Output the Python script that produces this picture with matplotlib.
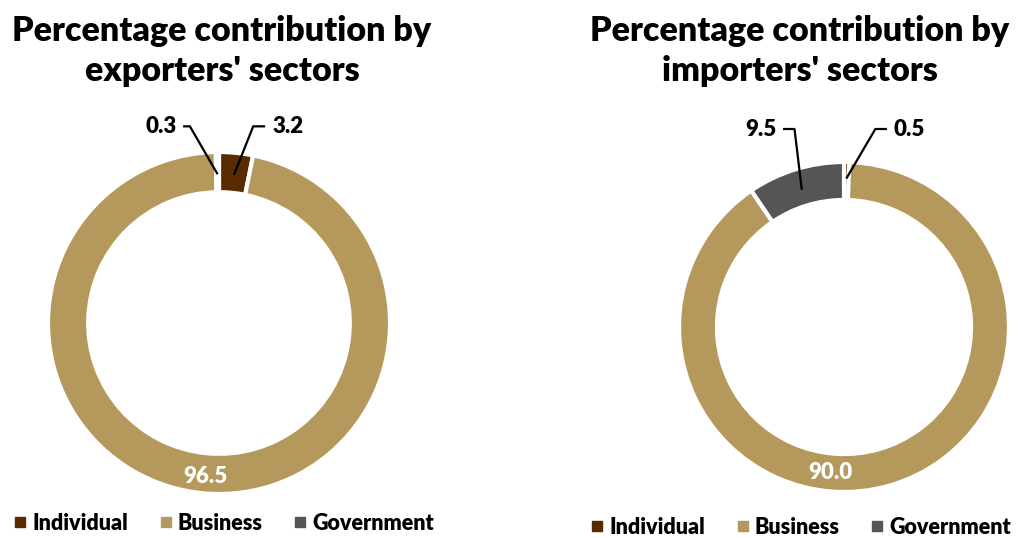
import numpy as np
import matplotlib
matplotlib.use("Agg")
import matplotlib.pyplot as plt
from matplotlib.lines import Line2D

plt.rcParams['font.family'] = ['Lato', 'DejaVu Sans']
plt.rcParams['font.weight'] = 'bold'

sectors = ["Individual", "Business", "Government"]
exporters = [3.2, 96.5, 0.3]
importers = [0.5, 90.0, 9.5]
colors = ["#582C00", "#B5995C", "#555555"]

W, H = 1021, 538
fig = plt.figure(figsize=(W / 100, H / 100), dpi=100)
WEIGHT = "heavy"


def donut_axes(cx, cy, r):
    """Axes whose data units span -1..1 over a circle of radius r pixels
    centred at (cx, cy) measured from the top-left corner."""
    return fig.add_axes([(cx - r) / W, (H - cy - r) / H, 2 * r / W, 2 * r / H])


def draw_donut(ax, values, width):
    wedges, _ = ax.pie(values, colors=colors, startangle=90, counterclock=False,
                       radius=1.0, wedgeprops=dict(width=width, edgecolor="white",
                                                   linewidth=3))
    ax.set_xlim(-1, 1)
    ax.set_ylim(-1, 1)
    ax.set_aspect("equal")
    ax.axis("off")
    return wedges


def mid_point(wedge, rr):
    ang = np.deg2rad((wedge.theta1 + wedge.theta2) / 2)
    return rr * np.cos(ang), rr * np.sin(ang)


def callout(ax, wedge, value, text_xy, elbow_xy, ha, rr=0.87):
    px, py = mid_point(wedge, rr)
    ax.plot([text_xy[0], elbow_xy[0], px], [text_xy[1], elbow_xy[1], py],
            color="black", lw=1.6, clip_on=False, solid_capstyle="butt")
    tx = text_xy[0] - 0.04 if ha == "right" else text_xy[0] + 0.04
    ax.text(tx, text_xy[1], f"{value:.1f}", ha=ha, va="center",
            fontsize=16, fontweight=WEIGHT, color="black")


# Exporters' sectors
ax1 = donut_axes(219, 323, 171)
w1 = draw_donut(ax1, exporters, 0.235)
callout(ax1, w1[2], exporters[2], (-0.21, 1.15), (-0.17, 1.15), "right")
callout(ax1, w1[0], exporters[0], (0.27, 1.15), (0.2, 1.15), "left")
ax1.text(-0.08, -0.9, f"{exporters[1]:.1f}", ha="center", va="center",
         fontsize=16, fontweight=WEIGHT, color="white")

# Importers' sectors
ax2 = donut_axes(844, 327, 165)
w2 = draw_donut(ax2, importers, 0.23)
callout(ax2, w2[2], importers[2], (-0.37, 1.2), (-0.3, 1.2), "right")
callout(ax2, w2[0], importers[0], (0.26, 1.2), (0.19, 1.2), "left", rr=0.9)
ax2.text(-0.085, -0.88, f"{importers[1]:.1f}", ha="center", va="center",
         fontsize=16, fontweight=WEIGHT, color="white")

# Titles
fig.text(222 / W, 1 - 51 / H, "Percentage contribution by\nexporters' sectors",
         ha="center", va="center", fontsize=24.5, fontweight=WEIGHT,
         linespacing=1.3)
fig.text(800 / W, 1 - 51 / H, "Percentage contribution by\nimporters' sectors",
         ha="center", va="center", fontsize=24.5, fontweight=WEIGHT,
         linespacing=1.3)

# Legends
handles = [Line2D([], [], marker="s", ls="none", markersize=7, color=c) for c in colors]
for x0, y0 in [(14, 523), (591, 527)]:
    fig.legend(handles, sectors, loc="center left",
               bbox_to_anchor=(x0 / W, 1 - y0 / H), ncol=3, frameon=False,
               handlelength=0.6, handletextpad=0.25, columnspacing=1.45,
               borderpad=0, borderaxespad=0,
               prop=dict(size=15.5, weight=WEIGHT))

fig.savefig("out.png", dpi=100)
